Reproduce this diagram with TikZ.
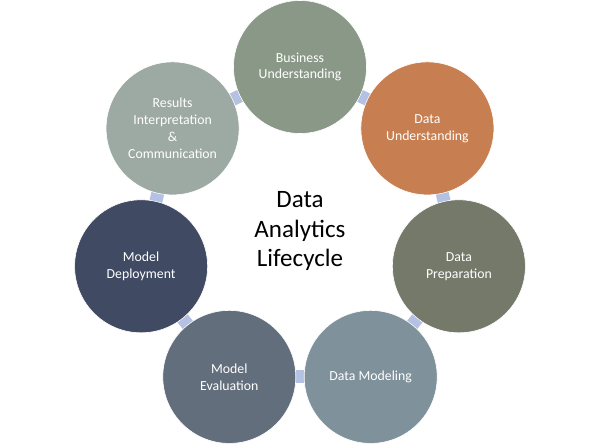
\documentclass[tikz,border=0pt]{standalone}
\usepackage{fontspec}
\setmainfont{Carlito}
\usetikzlibrary{backgrounds}
\definecolor{cBus}{RGB}{138,153,135}
\definecolor{cDU}{RGB}{199,126,80}
\definecolor{cDP}{RGB}{117,121,106}
\definecolor{cDM}{RGB}{127,145,155}
\definecolor{cME}{RGB}{99,110,125}
\definecolor{cMD}{RGB}{64,74,99}
\definecolor{cRI}{RGB}{157,169,163}
\definecolor{cConn}{RGB}{180,193,226}
\tikzset{
  stage/.style={circle, minimum size=133pt, inner sep=0pt, draw=white, line width=0.6pt,
    text=white, align=center, font=\fontsize{13.8}{16.8}\selectfont},
  conn/.style={draw=cConn, line width=13pt, line cap=butt}
}
\begin{document}
\begin{tikzpicture}[x=1pt,y=-1pt]
\useasboundingbox (0,0) rectangle (600,445);
\node[stage, fill=cBus] (bu) at (300,67) {Business\\Understanding};
\node[stage, fill=cDU] (du) at (427.4,128.4) {Data\\Understanding};
\node[stage, fill=cDP] (dp) at (458.9,266.3) {Data\\Preparation};
\node[stage, fill=cDM] (dm) at (370.7,376.9) {Data Modeling};
\node[stage, fill=cME] (me) at (229.3,376.9) {Model\\Evaluation};
\node[stage, fill=cMD] (md) at (141.1,266.3) {Model\\Deployment};
\node[stage, fill=cRI] (ri) at (172.6,128.4) {Results\\Interpretation\\\&\\Communication};
\node[align=center, font=\fontsize{25}{29.5}\selectfont] (title) at (300,231) {Data\\Analytics\\Lifecycle};
\begin{scope}[on background layer]
\draw[conn] (bu.center) -- (du.center);
\draw[conn] (du.center) -- (dp.center);
\draw[conn] (dp.center) -- (dm.center);
\draw[conn] (dm.center) -- (me.center);
\draw[conn] (me.center) -- (md.center);
\draw[conn] (md.center) -- (ri.center);
\draw[conn] (ri.center) -- (bu.center);
\end{scope}
\end{tikzpicture}
\end{document}
